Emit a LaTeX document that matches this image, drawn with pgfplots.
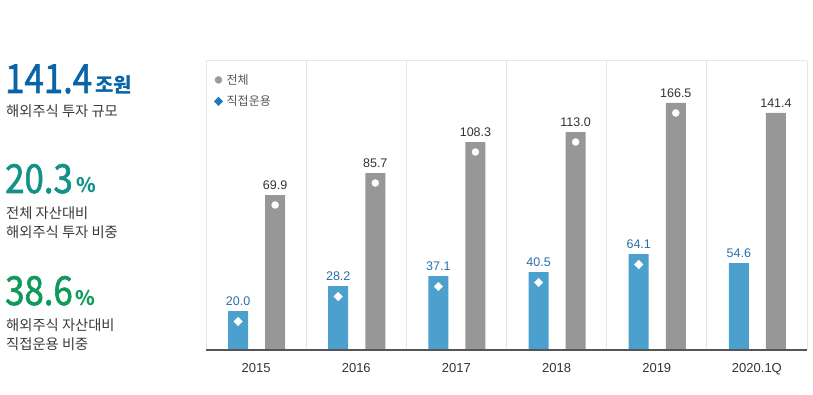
\documentclass[border=0pt]{standalone}
\usepackage{pgfplots}
\pgfplotsset{compat=1.18}
\usepackage{pgfplotstable}
\usepackage{fontspec}
\setmainfont{Liberation Sans}
\newfontfamily\kr{Noto Sans CJK KR}
\newfontfamily\krnum[FakeBold=1.6]{Noto Sans CJK KR}
\definecolor{barblue}{HTML}{4CA0CD}
\definecolor{bargray}{HTML}{979797}
\definecolor{lblblue}{HTML}{2A6FA8}
\definecolor{lblgray}{HTML}{333333}
\definecolor{gridc}{HTML}{E6E6E6}
\definecolor{basec}{HTML}{555555}
\definecolor{numblue}{HTML}{0A64A8}
\definecolor{numteal}{HTML}{139189}
\definecolor{numgreen}{HTML}{0F9A5C}
\definecolor{txtc}{HTML}{3A3A3A}
\definecolor{legtxt}{HTML}{555555}
\definecolor{leggray}{HTML}{9A9A9A}
\definecolor{legblue}{HTML}{1A78C0}

% h = drawn bar height (px), m = marker height, v = printed value
\pgfplotstableread{
x    h   m     v
0.32 39  28.5  20.0
1.32 64  53.5  28.2
2.32 74  63.5  37.1
3.32 78  67.5  40.5
4.32 96  85.5  64.1
5.32 87  nan   54.6
}\directtbl
\pgfplotstableread{
x    h    m    v
0.69 155  145  69.9
1.69 177  167  85.7
2.69 208  198  108.3
3.69 218  208  113.0
4.69 247  237  166.5
5.69 237  nan  141.4
}\totaltbl

\newcommand\bignum[1]{\scalebox{0.87}[1]{\krnum\fontsize{40}{40}\selectfont #1}}
\newcommand\bodytxt[1]{\kr\fontsize{14.3}{14.3}\selectfont #1}

\begin{document}
\begin{tikzpicture}
\path[use as bounding box] (0pt,0pt) rectangle (813pt,394pt);

% left summary panel
\node[anchor=base west, inner sep=0pt, text=numblue] at (5pt,301pt) {\bignum{141.4}};
\node[anchor=base west, inner sep=0pt, text=numblue] at (95pt,301pt)
  {\kr\bfseries\fontsize{20}{20}\selectfont 조원};
\node[anchor=base west, inner sep=0pt, text=txtc] at (6pt,277pt) {\bodytxt{해외주식 투자 규모}};

\node[anchor=base west, inner sep=0pt, text=numteal] at (5pt,201pt) {\bignum{20.3}};
\node[anchor=base west, inner sep=0pt, text=numteal] at (76pt,201pt)
  {\kr\bfseries\fontsize{20}{20}\selectfont \%};
\node[anchor=base west, inner sep=0pt, text=txtc] at (6pt,176pt) {\bodytxt{전체 자산대비}};
\node[anchor=base west, inner sep=0pt, text=txtc] at (6pt,157pt) {\bodytxt{해외주식 투자 비중}};

\node[anchor=base west, inner sep=0pt, text=numgreen] at (5pt,89pt) {\bignum{38.6}};
\node[anchor=base west, inner sep=0pt, text=numgreen] at (75pt,89pt)
  {\kr\bfseries\fontsize{20}{20}\selectfont \%};
\node[anchor=base west, inner sep=0pt, text=txtc] at (6pt,64pt) {\bodytxt{해외주식 자산대비}};
\node[anchor=base west, inner sep=0pt, text=txtc] at (6pt,45pt) {\bodytxt{직접운용 비중}};

\begin{axis}[
  at={(206pt,44pt)}, anchor=south west,
  scale only axis, width=601pt, height=289pt,
  xmin=0, xmax=6, ymin=0, ymax=289,
  axis line style={draw=none},
  xtick={0.5,1.5,2.5,3.5,4.5,5.5},
  xticklabels={2015,2016,2017,2018,2019,2020.1Q},
  minor xtick={0,1,2,3,4,5,6},
  xminorgrids, minor grid style={draw=gridc, line width=1pt},
  major tick length=0pt, minor tick length=0pt,
  ytick=\empty,
  xticklabel style={font=\fontsize{13}{13}\selectfont, text=lblgray, yshift=-10pt},
  clip=false,
  legend style={at={(rel axis cs:0,1)}, anchor=north west, xshift=6pt, yshift=-9pt,
    draw=none, fill=none, font=\kr\fontsize{12}{12}\selectfont, text=legtxt,
    row sep=6pt, inner sep=2pt,
    nodes={inner xsep=4pt}},
  legend image code/.code={\draw[#1] plot coordinates {(4pt,0pt)};},
  legend cell align=left,
]
\addlegendimage{only marks, mark=*, mark size=3.5pt, draw=leggray, fill=leggray}
\addlegendentry{전체}
\addlegendimage{only marks, mark=square*, mark size=3pt, mark options={rotate=45}, draw=legblue, fill=legblue}
\addlegendentry{직접운용}

\addplot[ybar, bar width=20pt, bar shift=0pt, fill=barblue, draw=none,
  point meta=explicit symbolic, nodes near coords,
  every node near coord/.append style={font=\fontsize{12.5}{12.5}\selectfont, text=lblblue, anchor=south, inner sep=0pt, yshift=5pt}]
  table[x=x, y=h, meta=v] {\directtbl};
\addplot[ybar, bar width=20pt, bar shift=0pt, fill=bargray, draw=none,
  point meta=explicit symbolic, nodes near coords,
  every node near coord/.append style={font=\fontsize{12.5}{12.5}\selectfont, text=lblgray, anchor=south, inner sep=0pt, yshift=5pt}]
  table[x=x, y=h, meta=v] {\totaltbl};
\addplot[only marks, mark=square*, mark size=3pt, mark options={rotate=45, fill=white, draw=white}, unbounded coords=discard]
  table[x=x, y=m] {\directtbl};
\addplot[only marks, mark=*, mark size=3.5pt, mark options={fill=white, draw=white}, unbounded coords=discard]
  table[x=x, y=m] {\totaltbl};

\draw[gridc, line width=1pt] (rel axis cs:0,1) -- (rel axis cs:1,1);
\draw[basec, line width=2pt] (rel axis cs:0,0) -- (rel axis cs:1,0);
\end{axis}
\end{tikzpicture}
\end{document}
